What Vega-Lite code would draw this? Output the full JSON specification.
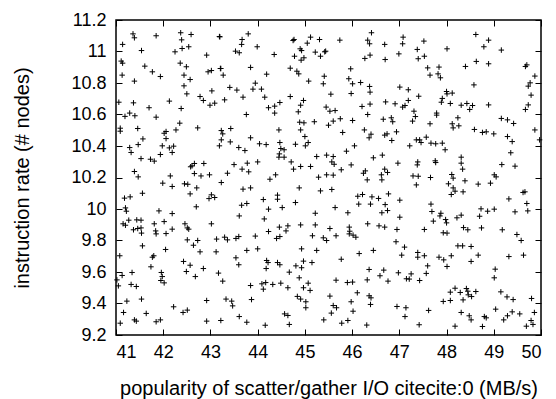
{
"$schema":"https://vega.github.io/schema/vega-lite/v6.json",
"width":425,"height":315,"autosize":"none",
"padding":{"left":116,"top":20,"right":15,"bottom":64},
"data":{"values":[
{"x":41.36,"y":11.112},{"x":41.39,"y":11.087},{"x":41.85,"y":11.100},{"x":42.37,"y":11.119},{"x":42.39,"y":11.074},{"x":42.59,"y":11.108},{"x":43.19,"y":11.095},{"x":41.14,"y":11.045},{"x":41.54,"y":11.006},{"x":42.25,"y":10.998},{"x":42.40,"y":11.019},{"x":42.54,"y":11.030},{"x":42.92,"y":10.977},{"x":41.11,"y":10.939},{"x":41.14,"y":10.926},{"x":41.61,"y":10.907},{"x":42.36,"y":10.926},{"x":42.49,"y":10.903},{"x":42.95,"y":10.871},{"x":43.02,"y":10.879},{"x":43.21,"y":10.892},{"x":41.77,"y":10.871},{"x":41.13,"y":10.850},{"x":41.94,"y":10.841},{"x":42.44,"y":10.850},{"x":42.57,"y":10.822},{"x":41.39,"y":10.812},{"x":42.44,"y":10.782},{"x":43.03,"y":10.750},{"x":42.50,"y":10.731},{"x":42.78,"y":10.714},{"x":42.85,"y":10.689},{"x":42.13,"y":10.685},{"x":41.06,"y":10.678},{"x":41.37,"y":10.674},{"x":42.99,"y":10.659},{"x":43.09,"y":10.672},{"x":41.70,"y":10.643},{"x":42.38,"y":10.638},{"x":41.29,"y":10.609},{"x":41.19,"y":10.588},{"x":41.40,"y":10.592},{"x":41.85,"y":10.583},{"x":42.35,"y":10.545},
{"x":43.20,"y":11.093},{"x":43.80,"y":11.112},{"x":43.67,"y":11.076},{"x":43.66,"y":11.045},{"x":43.99,"y":11.030},{"x":43.53,"y":11.002},{"x":43.61,"y":10.992},{"x":44.35,"y":10.981},{"x":44.77,"y":11.076},{"x":44.75,"y":11.070},{"x":45.05,"y":11.053},{"x":45.12,"y":11.091},{"x":45.31,"y":11.076},{"x":44.90,"y":11.017},{"x":44.93,"y":11.006},{"x":44.78,"y":10.970},{"x":44.98,"y":10.960},{"x":44.92,"y":10.945},{"x":45.22,"y":10.996},{"x":45.33,"y":10.970},{"x":45.42,"y":10.998},{"x":45.44,"y":11.002},{"x":43.22,"y":10.892},{"x":43.27,"y":10.850},{"x":43.85,"y":10.899},{"x":44.19,"y":10.856},{"x":44.69,"y":10.894},{"x":44.83,"y":10.875},{"x":44.87,"y":10.858},{"x":45.41,"y":10.843},{"x":45.08,"y":10.812},{"x":45.39,"y":10.795},{"x":43.95,"y":10.799},{"x":43.41,"y":10.772},{"x":43.56,"y":10.755},{"x":43.90,"y":10.761},{"x":44.08,"y":10.761},{"x":43.30,"y":10.693},{"x":43.69,"y":10.710},{"x":44.15,"y":10.710},{"x":44.69,"y":10.714},{"x":44.47,"y":10.676},{"x":44.97,"y":10.689},{"x":44.91,"y":10.659},{"x":44.36,"y":10.653},{"x":44.23,"y":10.643},{"x":44.36,"y":10.609},{"x":44.86,"y":10.617},{"x":43.76,"y":10.600},{"x":45.45,"y":10.647},{"x":44.89,"y":10.551},{"x":44.98,"y":10.547},{"x":45.20,"y":10.554},
{"x":46.41,"y":11.119},{"x":45.74,"y":11.072},{"x":46.33,"y":11.072},{"x":46.37,"y":11.049},{"x":46.69,"y":11.045},{"x":47.08,"y":11.091},{"x":47.07,"y":11.049},{"x":47.52,"y":11.066},{"x":47.38,"y":11.013},{"x":46.38,"y":10.977},{"x":46.27,"y":10.956},{"x":46.70,"y":10.949},{"x":46.99,"y":10.985},{"x":47.40,"y":10.954},{"x":47.53,"y":10.970},{"x":47.60,"y":10.896},{"x":47.65,"y":10.850},{"x":45.97,"y":10.890},{"x":45.93,"y":10.827},{"x":46.01,"y":10.795},{"x":46.18,"y":10.803},{"x":46.37,"y":10.778},{"x":46.38,"y":10.742},{"x":47.01,"y":10.774},{"x":47.19,"y":10.757},{"x":45.55,"y":10.729},{"x":45.98,"y":10.733},{"x":47.41,"y":10.716},{"x":45.53,"y":10.621},{"x":45.64,"y":10.625},{"x":46.21,"y":10.651},{"x":46.38,"y":10.666},{"x":46.71,"y":10.680},{"x":46.91,"y":10.668},{"x":47.07,"y":10.647},{"x":47.12,"y":10.657},{"x":47.19,"y":10.689},{"x":47.31,"y":10.621},{"x":47.34,"y":10.587},{"x":46.33,"y":10.600},{"x":45.60,"y":10.558},{"x":45.75,"y":10.573},{"x":46.01,"y":10.562},{"x":46.66,"y":10.570},{"x":46.83,"y":10.579},{"x":46.86,"y":10.554},{"x":47.28,"y":10.558},
{"x":48.62,"y":11.108},{"x":48.89,"y":11.072},{"x":48.79,"y":11.030},{"x":48.01,"y":11.017},{"x":49.16,"y":11.009},{"x":48.63,"y":10.937},{"x":48.89,"y":10.922},{"x":48.40,"y":10.905},{"x":47.84,"y":10.901},{"x":47.82,"y":10.858},{"x":47.87,"y":10.833},{"x":49.70,"y":10.915},{"x":49.67,"y":10.905},{"x":49.87,"y":10.844},{"x":49.77,"y":10.801},{"x":49.73,"y":10.780},{"x":48.58,"y":10.788},{"x":48.00,"y":10.746},{"x":48.01,"y":10.731},{"x":48.12,"y":10.736},{"x":47.91,"y":10.702},{"x":47.89,"y":10.678},{"x":48.08,"y":10.670},{"x":48.31,"y":10.659},{"x":48.43,"y":10.670},{"x":48.49,"y":10.632},{"x":48.55,"y":10.657},{"x":48.89,"y":10.661},{"x":49.79,"y":10.723},{"x":49.73,"y":10.661},{"x":49.67,"y":10.632},{"x":47.79,"y":10.609},{"x":47.79,"y":10.596},{"x":48.24,"y":10.579},{"x":49.16,"y":10.575},{"x":49.29,"y":10.566},{"x":49.42,"y":10.543},
{"x":41.09,"y":10.513},{"x":41.09,"y":10.494},{"x":41.46,"y":10.511},{"x":42.02,"y":10.481},{"x":42.06,"y":10.492},{"x":42.06,"y":10.447},{"x":42.27,"y":10.502},{"x":42.73,"y":10.515},{"x":41.57,"y":10.445},{"x":41.47,"y":10.409},{"x":41.29,"y":10.390},{"x":41.32,"y":10.359},{"x":41.98,"y":10.401},{"x":42.13,"y":10.388},{"x":42.22,"y":10.399},{"x":42.19,"y":10.359},{"x":41.94,"y":10.346},{"x":43.19,"y":10.401},{"x":41.53,"y":10.320},{"x":41.73,"y":10.316},{"x":41.81,"y":10.304},{"x":42.61,"y":10.274},{"x":42.66,"y":10.289},{"x":42.86,"y":10.289},{"x":42.58,"y":10.268},{"x":41.39,"y":10.238},{"x":41.47,"y":10.204},{"x":42.66,"y":10.225},{"x":42.80,"y":10.210},{"x":42.98,"y":10.217},{"x":42.15,"y":10.210},{"x":41.99,"y":10.164},{"x":42.19,"y":10.143},{"x":42.45,"y":10.160},{"x":42.52,"y":10.157},{"x":42.71,"y":10.134},{"x":41.56,"y":10.100},{"x":41.18,"y":10.069},{"x":41.30,"y":10.077},{"x":42.57,"y":10.096},{"x":43.02,"y":10.090},{"x":42.97,"y":10.066},{"x":43.09,"y":10.073},{"x":41.20,"y":10.007},{"x":41.22,"y":9.986},{"x":41.91,"y":9.988},{"x":42.19,"y":9.971},{"x":42.70,"y":10.014},{"x":41.15,"y":9.906},{"x":41.20,"y":9.897},{"x":41.27,"y":9.929},{"x":41.44,"y":9.931},{"x":41.53,"y":9.929},{"x":41.81,"y":9.906},{"x":42.02,"y":9.920},{"x":41.37,"y":9.868},{"x":41.46,"y":9.876},{"x":41.53,"y":9.880},{"x":41.84,"y":9.861},{"x":42.19,"y":9.872},{"x":42.46,"y":9.906},{"x":42.51,"y":9.880},{"x":42.54,"y":9.872},{"x":43.02,"y":9.906},
{"x":43.23,"y":10.498},{"x":43.26,"y":10.477},{"x":43.23,"y":10.439},{"x":43.43,"y":10.511},{"x":43.42,"y":10.426},{"x":43.85,"y":10.452},{"x":43.60,"y":10.390},{"x":43.73,"y":10.371},{"x":44.04,"y":10.414},{"x":44.18,"y":10.409},{"x":44.45,"y":10.502},{"x":44.47,"y":10.422},{"x":44.49,"y":10.384},{"x":44.56,"y":10.376},{"x":44.46,"y":10.350},{"x":44.45,"y":10.329},{"x":44.56,"y":10.329},{"x":44.80,"y":10.411},{"x":45.01,"y":10.401},{"x":45.07,"y":10.422},{"x":45.00,"y":10.460},{"x":44.91,"y":10.502},{"x":45.25,"y":10.333},{"x":45.46,"y":10.342},{"x":43.50,"y":10.282},{"x":43.78,"y":10.291},{"x":44.00,"y":10.299},{"x":43.67,"y":10.253},{"x":43.81,"y":10.236},{"x":43.36,"y":10.227},{"x":43.23,"y":10.168},{"x":44.38,"y":10.217},{"x":44.26,"y":10.189},{"x":44.71,"y":10.299},{"x":44.76,"y":10.253},{"x":44.91,"y":10.270},{"x":45.12,"y":10.270},{"x":45.29,"y":10.202},{"x":45.46,"y":10.217},{"x":43.69,"y":10.126},{"x":43.85,"y":10.134},{"x":44.88,"y":10.134},{"x":45.33,"y":10.115},{"x":44.42,"y":10.088},{"x":44.42,"y":10.062},{"x":44.12,"y":10.060},{"x":44.80,"y":10.041},{"x":43.66,"y":10.024},{"x":43.77,"y":10.035},{"x":44.23,"y":9.999},{"x":44.52,"y":10.009},{"x":45.22,"y":9.973},{"x":43.61,"y":9.956},{"x":44.14,"y":9.937},{"x":44.46,"y":9.885},{"x":44.64,"y":9.893},{"x":44.60,"y":9.861},{"x":44.91,"y":9.899},{"x":45.22,"y":9.899},{"x":44.23,"y":9.857},
{"x":45.50,"y":10.532},{"x":45.80,"y":10.486},{"x":46.26,"y":10.502},{"x":46.40,"y":10.475},{"x":46.36,"y":10.452},{"x":46.69,"y":10.469},{"x":46.74,"y":10.477},{"x":46.94,"y":10.490},{"x":46.84,"y":10.435},{"x":47.22,"y":10.401},{"x":47.36,"y":10.439},{"x":47.43,"y":10.439},{"x":47.46,"y":10.422},{"x":47.57,"y":10.456},{"x":47.67,"y":10.418},{"x":47.65,"y":10.541},{"x":46.05,"y":10.401},{"x":45.88,"y":10.367},{"x":45.60,"y":10.333},{"x":45.57,"y":10.299},{"x":45.62,"y":10.284},{"x":45.98,"y":10.280},{"x":46.45,"y":10.325},{"x":46.64,"y":10.342},{"x":46.97,"y":10.291},{"x":47.39,"y":10.299},{"x":47.38,"y":10.280},{"x":45.77,"y":10.249},{"x":46.24,"y":10.227},{"x":46.28,"y":10.242},{"x":46.62,"y":10.217},{"x":46.63,"y":10.185},{"x":46.69,"y":10.253},{"x":46.75,"y":10.232},{"x":46.32,"y":10.185},{"x":45.60,"y":10.215},{"x":47.29,"y":10.210},{"x":47.40,"y":10.208},{"x":47.36,"y":10.153},{"x":47.66,"y":10.200},{"x":45.57,"y":10.124},{"x":46.12,"y":10.081},{"x":46.22,"y":10.092},{"x":46.42,"y":10.077},{"x":46.56,"y":10.067},{"x":46.77,"y":10.096},{"x":47.01,"y":10.056},{"x":46.14,"y":10.031},{"x":46.39,"y":10.031},{"x":46.70,"y":10.028},{"x":46.75,"y":9.990},{"x":46.63,"y":9.976},{"x":47.67,"y":10.031},{"x":47.69,"y":9.984},{"x":45.64,"y":10.009},{"x":45.91,"y":9.976},{"x":47.01,"y":9.948},{"x":47.72,"y":9.923},{"x":46.33,"y":9.906},{"x":46.57,"y":9.893},{"x":46.69,"y":9.885},{"x":45.53,"y":9.876},{"x":45.94,"y":9.885},{"x":45.95,"y":9.859},{"x":46.95,"y":9.870},{"x":47.53,"y":9.870},
{"x":48.12,"y":10.541},{"x":48.14,"y":10.515},{"x":48.26,"y":10.528},{"x":48.59,"y":10.505},{"x":48.76,"y":10.486},{"x":48.84,"y":10.490},{"x":49.00,"y":10.477},{"x":49.29,"y":10.460},{"x":49.39,"y":10.428},{"x":49.87,"y":10.502},{"x":49.97,"y":10.439},{"x":47.77,"y":10.414},{"x":47.91,"y":10.418},{"x":47.97,"y":10.376},{"x":49.36,"y":10.357},{"x":47.76,"y":10.306},{"x":47.77,"y":10.295},{"x":48.31,"y":10.329},{"x":48.31,"y":10.291},{"x":48.34,"y":10.253},{"x":49.17,"y":10.282},{"x":49.45,"y":10.272},{"x":48.11,"y":10.219},{"x":48.14,"y":10.196},{"x":48.39,"y":10.179},{"x":49.01,"y":10.217},{"x":49.05,"y":10.204},{"x":48.67,"y":10.158},{"x":48.93,"y":10.164},{"x":48.04,"y":10.160},{"x":48.14,"y":10.134},{"x":48.18,"y":10.113},{"x":48.10,"y":10.092},{"x":48.35,"y":10.109},{"x":49.32,"y":10.064},{"x":49.62,"y":10.105},{"x":49.66,"y":10.109},{"x":49.70,"y":10.035},{"x":48.73,"y":10.001},{"x":48.87,"y":9.986},{"x":49.01,"y":9.999},{"x":49.45,"y":9.982},{"x":49.72,"y":9.988},{"x":47.88,"y":9.973},{"x":47.86,"y":9.956},{"x":48.31,"y":9.961},{"x":48.22,"y":9.944},{"x":48.70,"y":9.954},{"x":47.98,"y":9.933},{"x":48.00,"y":9.912},{"x":48.36,"y":9.882},{"x":48.45,"y":9.868},{"x":48.74,"y":9.880},{"x":49.18,"y":9.868},
{"x":41.54,"y":9.847},{"x":41.85,"y":9.842},{"x":42.06,"y":9.844},{"x":42.51,"y":9.804},{"x":42.64,"y":9.770},{"x":42.73,"y":9.800},{"x":43.13,"y":9.809},{"x":41.56,"y":9.766},{"x":42.05,"y":9.743},{"x":41.80,"y":9.703},{"x":41.77,"y":9.694},{"x":42.78,"y":9.728},{"x":43.12,"y":9.728},{"x":41.08,"y":9.703},{"x":42.43,"y":9.667},{"x":42.57,"y":9.643},{"x":41.74,"y":9.633},{"x":42.85,"y":9.622},{"x":41.96,"y":9.597},{"x":41.98,"y":9.571},{"x":42.49,"y":9.603},{"x":43.17,"y":9.593},{"x":41.34,"y":9.597},{"x":41.13,"y":9.578},{"x":41.02,"y":9.550},{"x":42.68,"y":9.571},{"x":41.95,"y":9.546},{"x":42.02,"y":9.531},{"x":41.05,"y":9.512},{"x":41.32,"y":9.521},{"x":41.43,"y":9.508},{"x":41.23,"y":9.415},{"x":41.54,"y":9.428},{"x":42.92,"y":9.419},{"x":42.22,"y":9.379},{"x":42.42,"y":9.343},{"x":42.51,"y":9.358},{"x":41.16,"y":9.343},{"x":41.64,"y":9.337},{"x":41.39,"y":9.296},{"x":41.43,"y":9.288},{"x":41.09,"y":9.275},{"x":41.85,"y":9.284},{"x":41.94,"y":9.296},{"x":42.92,"y":9.288},{"x":43.22,"y":9.292},
{"x":43.30,"y":9.821},{"x":43.36,"y":9.804},{"x":43.54,"y":9.813},{"x":43.60,"y":9.825},{"x":43.95,"y":9.828},{"x":44.40,"y":9.813},{"x":44.47,"y":9.825},{"x":45.16,"y":9.830},{"x":45.39,"y":9.817},{"x":45.46,"y":9.800},{"x":43.77,"y":9.737},{"x":44.00,"y":9.747},{"x":44.93,"y":9.747},{"x":45.25,"y":9.737},{"x":43.54,"y":9.690},{"x":43.60,"y":9.646},{"x":44.19,"y":9.673},{"x":44.22,"y":9.660},{"x":44.18,"y":9.622},{"x":44.42,"y":9.660},{"x":44.47,"y":9.646},{"x":44.81,"y":9.639},{"x":44.93,"y":9.627},{"x":44.97,"y":9.669},{"x":45.15,"y":9.660},{"x":44.67,"y":9.599},{"x":44.88,"y":9.563},{"x":43.26,"y":9.542},{"x":43.85,"y":9.514},{"x":44.09,"y":9.525},{"x":44.12,"y":9.491},{"x":44.17,"y":9.533},{"x":44.32,"y":9.521},{"x":44.49,"y":9.529},{"x":44.64,"y":9.500},{"x":44.97,"y":9.500},{"x":45.07,"y":9.529},{"x":45.11,"y":9.483},{"x":43.33,"y":9.428},{"x":43.45,"y":9.415},{"x":43.47,"y":9.385},{"x":43.87,"y":9.425},{"x":44.84,"y":9.445},{"x":44.91,"y":9.428},{"x":45.02,"y":9.411},{"x":45.02,"y":9.373},{"x":44.57,"y":9.334},{"x":44.64,"y":9.324},{"x":43.61,"y":9.317},{"x":43.77,"y":9.281},{"x":44.16,"y":9.262},{"x":44.67,"y":9.267},{"x":45.40,"y":9.296},
{"x":45.66,"y":9.830},{"x":45.94,"y":9.842},{"x":46.02,"y":9.834},{"x":46.08,"y":9.821},{"x":46.93,"y":9.792},{"x":47.11,"y":9.758},{"x":47.05,"y":9.707},{"x":47.39,"y":9.724},{"x":47.39,"y":9.694},{"x":47.53,"y":9.703},{"x":47.60,"y":9.639},{"x":46.15,"y":9.717},{"x":46.45,"y":9.737},{"x":45.77,"y":9.681},{"x":46.36,"y":9.616},{"x":46.67,"y":9.612},{"x":46.98,"y":9.595},{"x":46.59,"y":9.576},{"x":46.76,"y":9.542},{"x":47.25,"y":9.588},{"x":47.15,"y":9.557},{"x":47.21,"y":9.555},{"x":47.43,"y":9.546},{"x":47.57,"y":9.591},{"x":45.66,"y":9.548},{"x":45.90,"y":9.533},{"x":46.01,"y":9.536},{"x":46.32,"y":9.550},{"x":46.11,"y":9.468},{"x":45.53,"y":9.447},{"x":46.36,"y":9.449},{"x":46.40,"y":9.436},{"x":45.98,"y":9.411},{"x":45.60,"y":9.387},{"x":45.67,"y":9.373},{"x":46.39,"y":9.394},{"x":46.95,"y":9.381},{"x":47.14,"y":9.373},{"x":47.62,"y":9.356},{"x":45.56,"y":9.339},{"x":46.02,"y":9.351},{"x":47.12,"y":9.317},{"x":45.78,"y":9.275},{"x":45.91,"y":9.292},{"x":46.31,"y":9.263},{"x":47.42,"y":9.265},
{"x":47.93,"y":9.849},{"x":48.01,"y":9.847},{"x":49.49,"y":9.838},{"x":49.58,"y":9.800},{"x":48.24,"y":9.766},{"x":48.34,"y":9.766},{"x":48.52,"y":9.762},{"x":47.84,"y":9.694},{"x":47.94,"y":9.677},{"x":48.10,"y":9.703},{"x":48.67,"y":9.707},{"x":49.32,"y":9.698},{"x":49.63,"y":9.707},{"x":48.52,"y":9.667},{"x":48.01,"y":9.635},{"x":49.03,"y":9.618},{"x":49.01,"y":9.563},{"x":48.08,"y":9.472},{"x":48.18,"y":9.497},{"x":48.29,"y":9.470},{"x":48.42,"y":9.495},{"x":48.45,"y":9.478},{"x":48.62,"y":9.476},{"x":48.46,"y":9.455},{"x":48.53,"y":9.444},{"x":49.15,"y":9.474},{"x":49.28,"y":9.442},{"x":49.41,"y":9.425},{"x":49.80,"y":9.432},{"x":47.93,"y":9.413},{"x":48.08,"y":9.419},{"x":48.35,"y":9.423},{"x":49.04,"y":9.364},{"x":48.31,"y":9.343},{"x":48.48,"y":9.322},{"x":48.52,"y":9.296},{"x":48.80,"y":9.317},{"x":48.84,"y":9.309},{"x":49.21,"y":9.296},{"x":49.29,"y":9.322},{"x":49.39,"y":9.347},{"x":49.55,"y":9.334},{"x":49.86,"y":9.343},{"x":49.79,"y":9.292},{"x":49.83,"y":9.267},{"x":48.18,"y":9.256},{"x":48.76,"y":9.254},{"x":49.69,"y":9.256}
]},
"layer":[
{"mark":{"type":"point","shape":"M-1,0H1M0,-1V1","filled":false,"stroke":"#000","strokeWidth":1,"size":30,"opacity":1},
"encoding":{
"x":{"field":"x","type":"quantitative","scale":{"domain":[41,50],"nice":false,"zero":false},
"axis":{"orient":"bottom","values":[41,42,43,44,45,46,47,48,49,50],"format":"~g","title":"popularity of scatter/gather I/O citecite:0 (MB/s)","labelPadding":14,"titlePadding":17}},
"y":{"field":"y","type":"quantitative","scale":{"domain":[9.2,11.2],"nice":false,"zero":false},
"axis":{"orient":"left","values":[9.2,9.4,9.6,9.8,10,10.2,10.4,10.6,10.8,11,11.2],"format":"~g","title":"instruction rate (# nodes)","labelPadding":16,"titlePadding":38}}}},
{"mark":{"type":"point","opacity":0},
"encoding":{
"x":{"field":"x","type":"quantitative","scale":{"domain":[41,50],"nice":false,"zero":false},
"axis":{"orient":"top","values":[41,42,43,44,45,46,47,48,49,50],"labels":false,"title":null}},
"y":{"field":"y","type":"quantitative","scale":{"domain":[9.2,11.2],"nice":false,"zero":false},
"axis":{"orient":"right","values":[9.2,9.4,9.6,9.8,10,10.2,10.4,10.6,10.8,11,11.2],"labels":false,"title":null}}}}
],
"resolve":{"axis":{"x":"independent","y":"independent"}},
"config":{
"view":{"stroke":"#000","strokeWidth":1.5},
"axis":{"domain":false,"grid":false,"ticks":true,"tickSize":-6,"tickColor":"#000","tickWidth":1,
"labelFont":"Liberation Sans","labelFontSize":18,"labelColor":"#000",
"titleFont":"Liberation Sans","titleFontSize":20,"titleFontWeight":"normal","titleColor":"#000"}
}
}
